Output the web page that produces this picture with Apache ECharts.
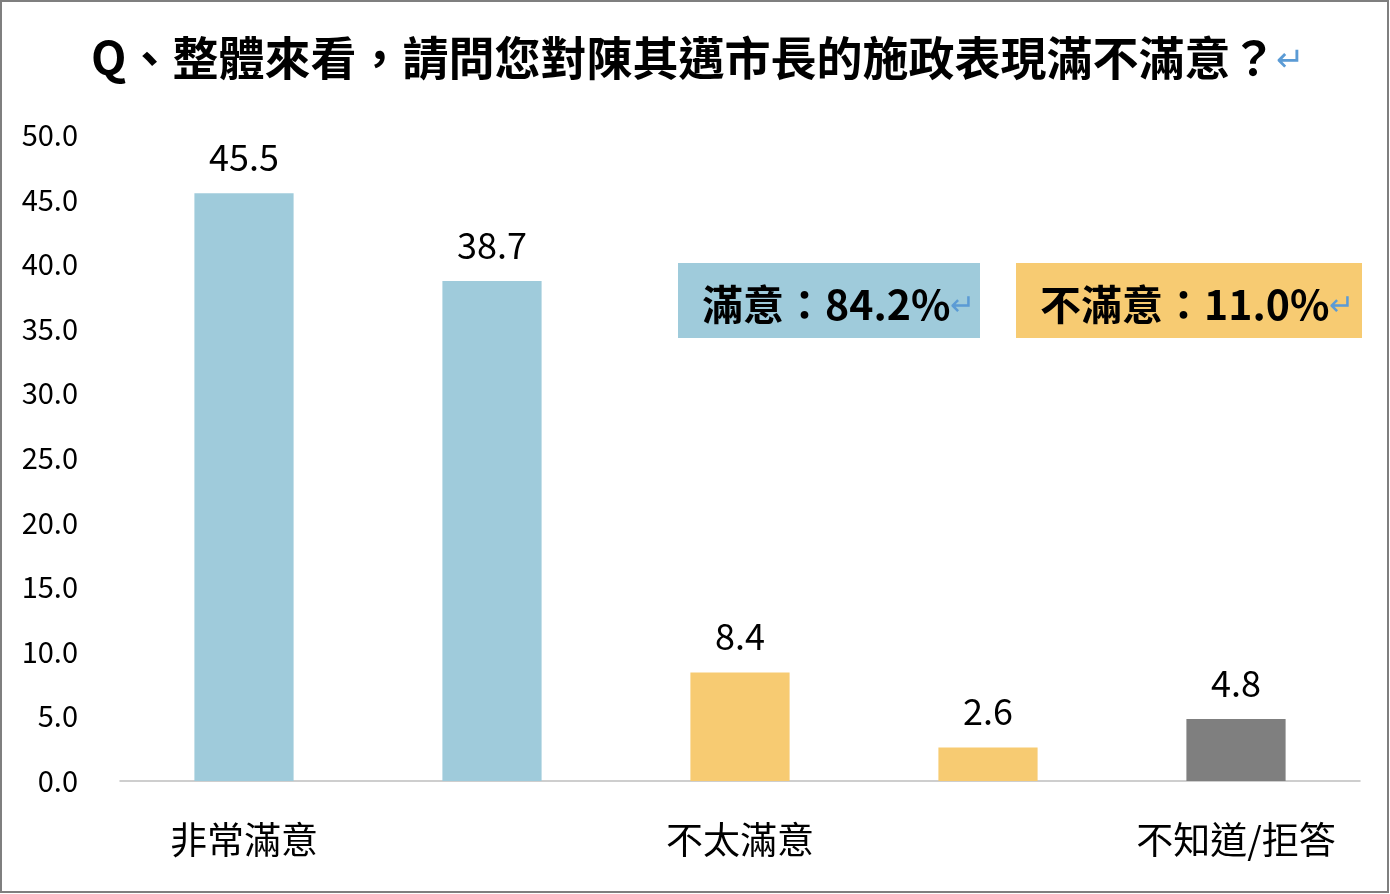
<!DOCTYPE html>
<html><head><meta charset="utf-8">
<script src="https://cdn.jsdelivr.net/npm/echarts@6/dist/echarts.min.js"></script>
<style>html,body{margin:0;padding:0;background:#fff}#c{width:1390px;height:894px}</style>
</head><body><div id="c"></div>
<script>
const categories = ['非常滿意','有點滿意','不太滿意','非常不滿意','不知道/拒答'];
const values = [45.5, 38.7, 8.4, 2.6, 4.8];
const barColors = ['#9FCBDB','#9FCBDB','#F7CB72','#F7CB72','#7F7F7F'];
const yTicks = {min:0, max:50, interval:5};
const F = '"Noto Sans CJK TC","Noto Sans",sans-serif';
const chart = echarts.init(document.getElementById('c'));
chart.setOption({
  animation:false,
  title:{text:'Q、整體來看，請問您對陳其邁市長的施政表現滿不滿意？{r|↵}', left:86, top:30,
    textStyle:{fontFamily:F, fontSize:46, fontWeight:'bold', color:'#000',
      rich:{r:{fontSize:34, color:'#5B9BD5', fontWeight:'normal'}}}},
  grid:{left:120, right:30, top:135, bottom:113},
  xAxis:{type:'category', data:categories,
    axisLine:{lineStyle:{color:'#BFBFBF', width:1.5}}, axisTick:{show:false},
    axisLabel:{fontFamily:F, fontSize:37, color:'#000', margin:40}},
  yAxis:{type:'value', min:yTicks.min, max:yTicks.max, interval:yTicks.interval,
    splitLine:{show:false}, axisLine:{show:false}, axisTick:{show:false},
    axisLabel:{fontFamily:F, fontSize:29, color:'#000', margin:42, formatter:v=>v.toFixed(1)}},
  series:[{type:'bar', barWidth:'40%',
    data:values.map((v,i)=>({value:v, itemStyle:{color:barColors[i]}})),
    label:{show:true, position:'top', distance:18, fontFamily:F, fontSize:36, color:'#000', formatter:p=>p.value.toFixed(1)}}],
  graphic:[
    {type:'rect', shape:{x:1, y:1, width:1387, height:891}, style:{fill:'none', stroke:'#7F7F7F', lineWidth:2}},
    {type:'rect', shape:{x:678, y:263, width:302, height:75}, style:{fill:'#9FCBDB'}},
    {type:'text', x:702, y:304, style:{text:'滿意：84.2%{r|↵}', font:'bold 41px '+F, fill:'#000', verticalAlign:'middle',
      rich:{r:{font:'30px '+F, fill:'#5B9BD5'}}}},
    {type:'rect', shape:{x:1016, y:263, width:346, height:75}, style:{fill:'#F7CB72'}},
    {type:'text', x:1040, y:304, style:{text:'不滿意：11.0%{r|↵}', font:'bold 41px '+F, fill:'#000', verticalAlign:'middle',
      rich:{r:{font:'30px '+F, fill:'#5B9BD5'}}}}
  ]
});
</script></body></html>
